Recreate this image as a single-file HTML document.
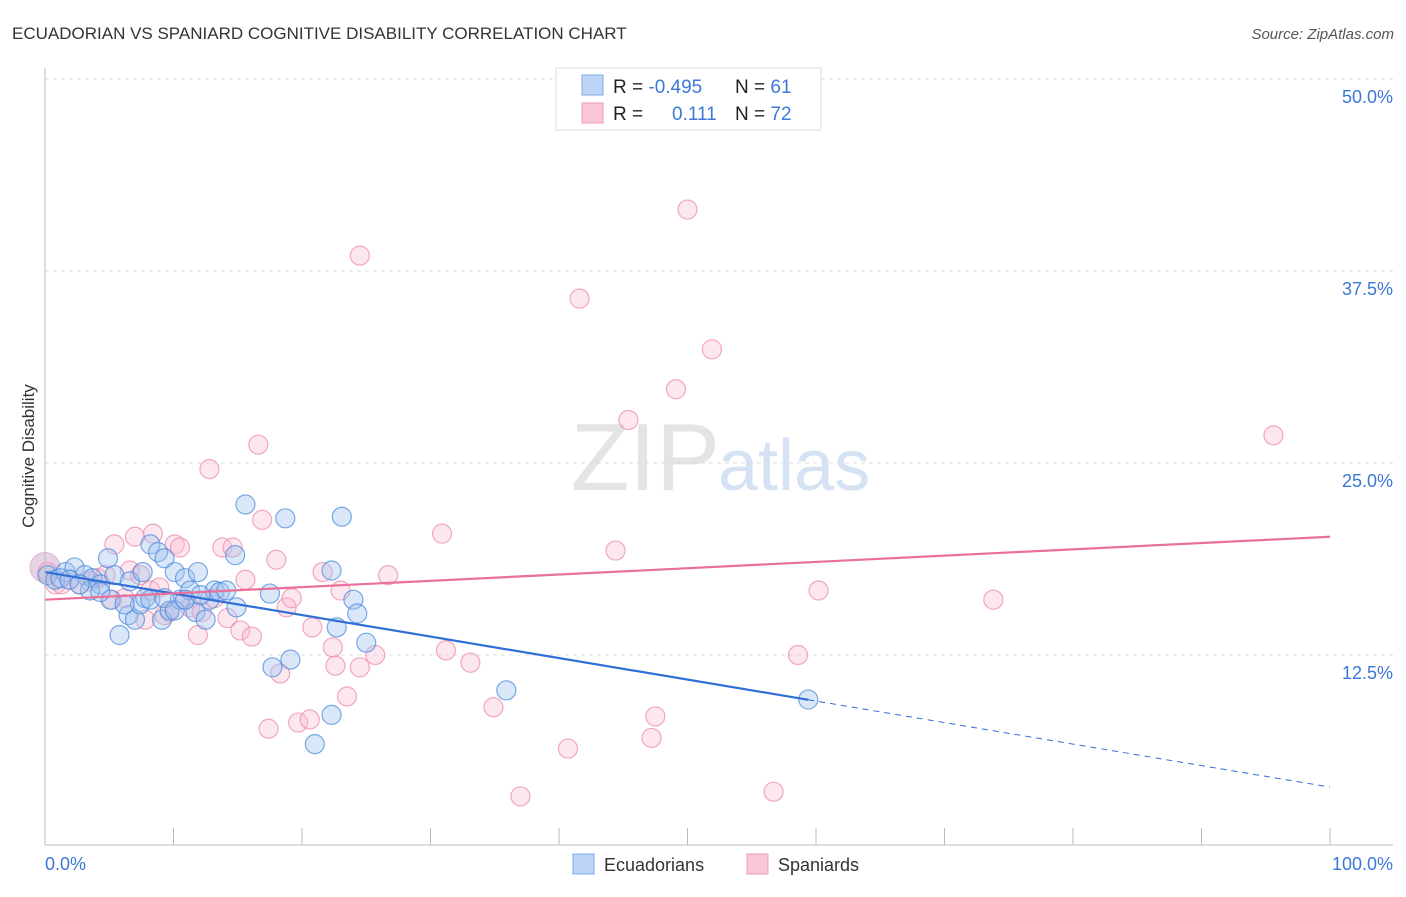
<!DOCTYPE html>
<html><head><meta charset="utf-8"><style>
body{margin:0;background:#fff;font-family:"Liberation Sans",sans-serif;}
svg text{font-family:"Liberation Sans",sans-serif;}
</style></head><body>
<svg id="c" width="1406" height="892">
<text x="12" y="39" font-size="17" fill="#333">ECUADORIAN VS SPANIARD COGNITIVE DISABILITY CORRELATION CHART</text>
<text x="1394" y="39" font-size="15" fill="#555" font-style="italic" text-anchor="end">Source: ZipAtlas.com</text>
<text x="34" y="456" font-size="17" fill="#333" text-anchor="middle" transform="rotate(-90 34 456)">Cognitive Disability</text>
<text x="720" y="490" font-size="96" fill="#e4e4e4" text-anchor="end" font-family="Liberation Serif">ZIP</text>
<text x="718" y="490" font-size="72" fill="#d4e2f4">atlas</text>
<g id="grid"></g><g id="marks"></g>
<line x1="45" y1="68" x2="45" y2="845" stroke="#bbb"/>
<line x1="45" y1="845" x2="1393" y2="845" stroke="#bbb"/>
<text x="45" y="870" font-size="18" fill="#3b78d8">0.0%</text>
<text x="1393" y="870" font-size="18" fill="#3b78d8" text-anchor="end">100.0%</text>
<g>
<rect x="556" y="68" width="265" height="62" fill="#fff" stroke="#ddd"/>
<rect x="582" y="75" width="21" height="20" fill="#bcd4f6" stroke="#7fa8e6"/>
<rect x="582" y="103" width="21" height="20" fill="#f9c6d6" stroke="#ef9bb6"/>
<text x="613" y="93" font-size="19" fill="#222">R = <tspan fill="#3b78d8">-0.495</tspan><tspan x="735">N = </tspan><tspan fill="#3b78d8">61</tspan></text>
<text x="613" y="120" font-size="19" fill="#222">R = <tspan x="672" fill="#3b78d8">0.111</tspan><tspan x="735">N = </tspan><tspan fill="#3b78d8">72</tspan></text>
</g>
<g>
<rect x="573" y="854" width="21" height="20" fill="#bcd4f6" stroke="#7fa8e6"/>
<text x="604" y="871" font-size="18" fill="#333">Ecuadorians</text>
<rect x="747" y="854" width="21" height="20" fill="#f9c6d6" stroke="#ef9bb6"/>
<text x="778" y="871" font-size="18" fill="#333">Spaniards</text>
</g>
</svg>
<script>
const yTicks=[12.5,25,37.5,50];
const yTickLabels=["12.5%","25.0%","37.5%","50.0%"];
const xTicks=[10,20,30,40,50,60,70,80,90,100];
const blueX=[0.2,0.8,1.6,2.3,3.1,3.7,4.3,4.9,5.1,5.4,5.8,6.5,6.6,7.0,7.4,7.6,7.8,8.2,8.8,9.1,9.3,9.7,10.1,10.5,10.9,11.3,11.7,11.9,12.5,12.8,13.2,13.6,14.1,14.8,14.9,15.6,17.5,17.7,18.7,19.1,21.0,22.3,22.3,22.7,23.1,24.0,24.3,25.0,35.9,59.4,1.2,1.9,3.5,6.2,8.2,9.3,10.1,10.9,4.3,2.7,12.1];
const blueY=[17.7,17.4,17.9,18.2,17.7,17.5,17.1,18.8,16.1,17.7,13.8,15.1,17.3,14.8,15.8,17.9,16.2,19.7,19.2,14.8,18.8,15.4,17.9,16.1,17.5,16.7,15.3,17.9,14.8,16.1,16.7,16.6,16.7,19.0,15.6,22.3,16.5,11.7,21.4,12.2,6.7,8.6,18.0,14.3,21.5,16.1,15.2,13.3,10.2,9.6,17.5,17.4,16.7,15.8,16.1,16.2,15.4,16.1,16.6,17.1,16.4];
const pinkX=[0.2,0.8,1.3,1.9,2.7,3.5,4.1,4.7,5.2,5.4,6.2,6.6,7.0,7.4,7.8,8.2,8.4,8.9,9.3,9.7,10.1,10.5,10.9,11.3,11.9,12.2,12.8,13.2,13.8,14.2,14.6,15.2,15.6,16.1,16.6,16.9,17.4,18.0,18.3,18.8,19.2,19.7,20.6,20.8,21.6,22.4,22.6,23.0,23.5,24.5,24.5,25.7,26.7,30.9,31.2,33.1,34.9,37.0,40.7,41.6,44.4,45.4,47.2,47.5,49.1,50.0,51.9,56.7,58.6,60.2,73.8,95.6];
const pinkY=[17.9,17.1,17.1,17.4,17.1,17.3,17.5,17.7,16.1,19.7,16.2,18.0,20.2,17.7,14.8,16.7,20.4,16.9,15.1,15.3,19.7,19.5,16.1,15.6,13.8,15.3,24.6,16.2,19.5,14.9,19.5,14.1,17.4,13.7,26.2,21.3,7.7,18.7,11.3,15.6,16.2,8.1,8.3,14.3,17.9,13.0,11.8,16.7,9.8,11.7,38.5,12.5,17.7,20.4,12.8,12.0,9.1,3.3,6.4,35.7,19.3,27.8,7.1,8.5,29.8,41.5,32.4,3.6,12.5,16.7,16.1,26.8];
const blueTrend=[17.9,-0.14];
const pinkTrend=[16.1,0.041];
const blueSolidEnd=59.4;

const X=v=>45+v*12.85, Y=v=>847-v*15.36;
const NS="http://www.w3.org/2000/svg";
const grid=document.getElementById('grid'), marks=document.getElementById('marks');
function mk(tag,attrs,parent){const e=document.createElementNS(NS,tag);for(const k in attrs)e.setAttribute(k,attrs[k]);parent.appendChild(e);return e;}
yTicks.forEach((t,i)=>{
 const l=mk('line',{x1:45,x2:1393,y1:Y(t),y2:Y(t),stroke:'#ddd','stroke-dasharray':'4,4'},grid);
 
 
 const tx=mk('text',{x:1393,y:Y(t)+24,'font-size':18,fill:'#3b78d8','text-anchor':'end'},grid);
 tx.textContent=yTickLabels[i];
 
 
});
xTicks.forEach(t=>{
 const l=mk('line',{x1:X(t),x2:X(t),y1:828,y2:845,stroke:'#bbb'},grid);
 
 
});
const big=mk('circle',{cx:45,cy:Y(18.2),r:15,fill:'rgba(200,160,200,0.45)',stroke:'rgba(200,150,190,0.6)'},marks);


pinkX.forEach((x,i)=>{
 const c=mk('circle',{cx:X(x),cy:Y(pinkY[i]),r:9.5,fill:'rgba(248,185,205,0.35)',stroke:'rgba(236,140,172,0.75)','stroke-width':1.2},marks);
 
 
});
blueX.forEach((x,i)=>{
 const c=mk('circle',{cx:X(x),cy:Y(blueY[i]),r:9.5,fill:'rgba(160,195,240,0.4)',stroke:'rgba(80,140,220,0.75)','stroke-width':1.2},marks);
 
 
});
const bt=x=>blueTrend[0]+blueTrend[1]*x, pt=x=>pinkTrend[0]+pinkTrend[1]*x;
const l1=mk('line',{x1:X(0),y1:Y(bt(0)),x2:X(blueSolidEnd),y2:Y(bt(blueSolidEnd)),stroke:'#2f6fd6','stroke-width':2.2},marks);


const l2=mk('line',{x1:X(blueSolidEnd),y1:Y(bt(blueSolidEnd)),x2:X(100),y2:Y(bt(100)),stroke:'#2f6fd6','stroke-width':1,'stroke-dasharray':'6,5'},marks);


const l3=mk('line',{x1:X(0),y1:Y(pt(0)),x2:X(100),y2:Y(pt(100)),stroke:'#e8709a','stroke-width':2.2},marks);


</script>
</body></html>
